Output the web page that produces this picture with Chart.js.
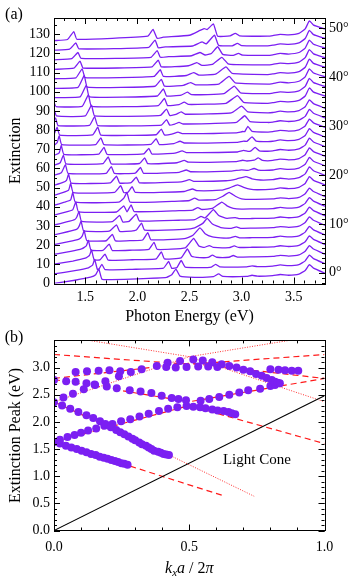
<!DOCTYPE html>
<html>
<head>
<meta charset="utf-8">
<script src="https://cdn.jsdelivr.net/npm/chart.js@4.4.1/dist/chart.umd.min.js"></script>
<style>
  html, body { margin: 0; padding: 0; background: #fff; }
  #haut { position: absolute; left: 0; top: 0; }
  #bas { position: absolute; left: 0; top: 328px; }
</style>
</head>
<body>
<canvas id="haut" width="354" height="328"></canvas>
<canvas id="bas" width="354" height="253"></canvas>
<script>
// ---- (a) spectres d'extinction, decales de 5 par angle ----
const angles = [0, 2, 4, 6, 8, 10, 12, 14, 16, 18, 20, 22, 24, 26, 28, 30, 32, 34, 36, 38, 40, 42, 44, 46, 48, 50];
const offsets = [0, 5, 10, 15, 20, 25, 30, 35, 40, 45, 50, 55, 60, 65, 70, 75, 80, 85, 90, 95, 100, 105, 110, 115, 120, 125];

// fin des courbes (pic vers 3.65 eV)
const tailLow = [[3.3, 4.1], [3.37, 4.7], [3.45, 4.3], [3.55, 4.9], [3.61, 6.8], [3.65, 9.8], [3.69, 8], [3.8, 5.3]];
const tailMid = [[3.3, 4.2], [3.37, 4.9], [3.45, 4.5], [3.55, 5.2], [3.61, 7.2], [3.65, 10.8], [3.69, 8.8], [3.8, 6.4]];
const tailHigh = [[3.3, 4.3], [3.37, 5], [3.45, 4.7], [3.55, 5.5], [3.61, 7.8], [3.65, 12], [3.69, 9.8], [3.8, 7.8]];

// [energie (eV), extinction relative]
const spectra = [
  /* 0 */ [[1.2, 0], [1.4, 1.7], [1.55, 3.3], [1.6, 4.6], [1.63, 7.5], [1.66, 2.2], [1.75, 2], [2.0, 2.4], [2.28, 3.2], [2.33, 4.6], [2.37, 7.5], [2.41, 3.8], [2.55, 3.2], [2.73, 3.6], [2.78, 5], [2.82, 3.7], [3.05, 3.7], [3.1, 4.3], [3.15, 3.8], ...tailLow],
  /* 2 */ [[1.2, 0], [1.4, 1.7], [1.53, 3.2], [1.57, 4.6], [1.59, 7.5], [1.615, 2.5], [1.63, 2.4], [1.66, 5], [1.69, 2.2], [1.95, 2.4], [2.25, 3], [2.3, 6.5], [2.33, 2.9], [2.38, 3.4], [2.42, 7], [2.46, 3.5], [2.6, 3.3], [2.71, 3.6], [2.75, 5], [2.79, 3.7], [3.05, 3.7], [3.1, 4.2], [3.15, 3.8], ...tailLow],
  /* 4 */ [[1.2, 0.1], [1.38, 1.7], [1.5, 3.2], [1.54, 4.6], [1.56, 7.5], [1.585, 2.4], [1.64, 2.3], [1.69, 5.3], [1.72, 2.2], [1.95, 2.4], [2.18, 2.9], [2.23, 6.5], [2.26, 2.8], [2.42, 3.4], [2.48, 8], [2.52, 4.2], [2.6, 3.5], [2.68, 3.6], [2.72, 4.8], [2.76, 3.7], [2.88, 3.7], [2.92, 4.6], [2.96, 3.8], [3.1, 3.9], ...tailLow],
  /* 6 */ [[1.2, 0.2], [1.36, 1.7], [1.47, 3.2], [1.51, 4.6], [1.53, 7.5], [1.555, 2.4], [1.67, 2.3], [1.73, 5.5], [1.76, 2.2], [1.95, 2.4], [2.11, 2.8], [2.16, 6.5], [2.19, 2.8], [2.46, 3.6], [2.54, 8.5], [2.59, 4.6], [2.64, 3.8], [2.69, 4.8], [2.73, 3.8], [2.88, 3.7], [2.93, 4.6], [2.97, 3.8], [3.1, 3.9], ...tailLow],
  /* 8 */ [[1.2, 0.3], [1.34, 1.8], [1.44, 3.2], [1.47, 4.7], [1.49, 7.5], [1.515, 2.4], [1.7, 2.3], [1.76, 5.6], [1.79, 2.2], [1.95, 2.4], [2.05, 2.7], [2.1, 6.5], [2.13, 2.8], [2.45, 3.4], [2.53, 5], [2.6, 9], [2.65, 6], [2.72, 4.3], [2.8, 3.8], [2.89, 3.8], [2.94, 4.6], [2.98, 3.8], [3.1, 3.9], ...tailLow],
  /* 10 */ [[1.2, 0.4], [1.33, 2], [1.42, 3.4], [1.44, 4.8], [1.46, 7.5], [1.485, 2.4], [1.73, 2.3], [1.8, 5.6], [1.83, 2.2], [1.94, 2.3], [1.99, 2.9], [2.04, 6.5], [2.07, 2.8], [2.45, 3.2], [2.55, 4], [2.63, 6.5], [2.67, 9], [2.72, 6], [2.8, 4.2], [2.9, 3.8], [2.95, 4.5], [2.99, 3.8], [3.1, 3.9], ...tailLow],
  /* 12 */ [[1.2, 0.5], [1.32, 2.1], [1.4, 3.4], [1.42, 4.8], [1.44, 7.5], [1.465, 2.4], [1.76, 2.3], [1.83, 5.5], [1.86, 2.1], [1.92, 2.4], [1.99, 6.2], [2.02, 2.6], [2.4, 3], [2.55, 3.3], [2.61, 5], [2.65, 4.2], [2.73, 8.5], [2.78, 5.5], [2.86, 4], [2.94, 4.4], [2.98, 3.8], [3.1, 3.9], ...tailLow],
  /* 14 */ [[1.2, 0.6], [1.31, 2.2], [1.38, 3.5], [1.39, 4.8], [1.41, 7.5], [1.435, 2.4], [1.8, 2.3], [1.87, 5.5], [1.9, 2.4], [1.94, 6], [1.97, 2.5], [2.4, 3], [2.53, 3.3], [2.58, 4.6], [2.62, 3.6], [2.72, 4.2], [2.81, 7.5], [2.86, 5.5], [2.92, 4.2], [3.0, 3.8], [3.1, 3.9], ...tailLow],
  /* 16 */ [[1.2, 0.8], [1.3, 2.4], [1.36, 3.6], [1.38, 7.5], [1.405, 2.4], [1.82, 2.4], [1.87, 4.5], [1.9, 7.5], [1.93, 2.4], [2.4, 3], [2.5, 3.3], [2.55, 4.5], [2.59, 3.5], [2.75, 3.8], [2.82, 5.5], [2.88, 7.5], [2.94, 5.5], [3.0, 4.2], [3.1, 3.9], ...tailLow],
  /* 18 */ [[1.2, 1], [1.29, 2.5], [1.34, 3.7], [1.36, 7.2], [1.385, 2.4], [1.78, 2.5], [1.84, 6], [1.87, 2.4], [1.91, 2.6], [1.95, 5.5], [1.98, 2.5], [2.45, 3], [2.53, 4.3], [2.57, 3.4], [2.8, 3.7], [2.88, 4.8], [2.96, 6.5], [3.02, 5.2], [3.08, 4.2], [3.15, 3.9], ...tailMid],
  /* 20 */ [[1.2, 1.2], [1.28, 2.6], [1.32, 3.8], [1.34, 7], [1.365, 2.4], [1.74, 2.5], [1.8, 6], [1.83, 2.4], [1.94, 2.6], [1.99, 5.5], [2.02, 2.5], [2.42, 3], [2.5, 4.2], [2.54, 3.3], [2.85, 3.6], [2.95, 4.5], [3.04, 5.8], [3.1, 4.6], [3.18, 4], ...tailMid],
  /* 22 */ [[1.2, 1.4], [1.27, 2.8], [1.31, 7], [1.335, 2.4], [1.7, 2.5], [1.75, 6], [1.78, 2.4], [1.98, 2.6], [2.03, 5.5], [2.06, 2.5], [2.4, 3], [2.47, 4.2], [2.51, 3.3], [2.9, 3.6], [3.0, 4.3], [3.06, 4], [3.12, 5], [3.16, 4.2], [3.22, 4], ...tailMid],
  /* 24 */ [[1.2, 1.6], [1.26, 3], [1.29, 7], [1.315, 2.4], [1.67, 2.5], [1.72, 6], [1.75, 2.4], [2.02, 2.6], [2.07, 5.5], [2.1, 2.5], [2.38, 3], [2.45, 4.2], [2.49, 3.3], [2.95, 3.6], [3.01, 4.3], [3.05, 3.9], [3.12, 4.3], [3.16, 5.5], [3.2, 4.2], [3.25, 4], ...tailMid],
  /* 26 */ [[1.2, 1.8], [1.25, 3.2], [1.27, 7], [1.295, 2.4], [1.63, 2.5], [1.68, 6], [1.71, 2.4], [2.06, 2.6], [2.11, 5.5], [2.14, 2.5], [2.36, 3], [2.43, 4.2], [2.47, 3.3], [2.96, 3.6], [3.02, 4.4], [3.06, 3.9], [3.09, 4.2], [3.13, 6], [3.17, 4.2], [3.25, 4], ...tailMid],
  /* 28 */ [[1.2, 2], [1.23, 3.4], [1.25, 7], [1.275, 2.4], [1.6, 2.5], [1.65, 6], [1.68, 2.4], [2.13, 2.6], [2.18, 5.5], [2.21, 2.5], [2.35, 3], [2.41, 4.2], [2.45, 3.3], [2.96, 3.6], [3.02, 4.3], [3.05, 4.1], [3.1, 6.5], [3.14, 4.3], [3.25, 4], ...tailMid],
  /* 30 */ [[1.2, 2.6], [1.23, 6.5], [1.255, 2.4], [1.57, 2.5], [1.62, 6.5], [1.65, 2.4], [2.18, 2.6], [2.23, 5.5], [2.26, 2.5], [2.33, 2.9], [2.39, 4], [2.43, 3.2], [2.95, 3.6], [3.01, 4.3], [3.03, 4.2], [3.06, 7], [3.1, 4.4], [3.25, 4], ...tailMid],
  /* 32 */ [[1.2, 5.5], [1.215, 6.3], [1.24, 2.4], [1.54, 2.5], [1.59, 7], [1.62, 2.4], [2.23, 2.6], [2.28, 5.5], [2.31, 2.6], [2.36, 3.2], [2.4, 4], [2.44, 3.2], [2.95, 4], [3.03, 7.5], [3.08, 4.5], [3.25, 4], ...tailMid],
  /* 34 */ [[1.2, 6], [1.225, 2.4], [1.5, 2.4], [1.56, 8], [1.59, 2.4], [2.22, 2.7], [2.28, 6], [2.31, 2.7], [2.37, 3.2], [2.42, 4.5], [2.46, 3.3], [2.9, 4], [3.0, 7.5], [3.06, 4.5], [3.25, 4], ...tailMid],
  /* 36 */ [[1.2, 4.5], [1.22, 2.3], [1.47, 2.4], [1.53, 8.5], [1.56, 2.4], [2.2, 2.8], [2.26, 6.5], [2.29, 2.8], [2.4, 3.3], [2.45, 4.6], [2.49, 3.4], [2.85, 4], [2.96, 8], [3.02, 4.5], [3.25, 4], ...tailHigh],
  /* 38 */ [[1.2, 2], [1.45, 2.3], [1.51, 8.5], [1.54, 2.4], [2.19, 2.8], [2.25, 6.5], [2.28, 2.8], [2.42, 3.3], [2.48, 4.8], [2.52, 3.5], [2.83, 4], [2.93, 8], [2.99, 4.5], [3.25, 4], ...tailHigh],
  /* 40 */ [[1.2, 1.8], [1.43, 2.3], [1.49, 8.5], [1.52, 2.4], [2.17, 2.9], [2.23, 6.5], [2.26, 2.9], [2.44, 3.4], [2.51, 4.8], [2.56, 3.6], [2.78, 4], [2.88, 8], [2.94, 4.6], [3.25, 4], ...tailHigh],
  /* 42 */ [[1.2, 1.8], [1.41, 2.3], [1.47, 7], [1.5, 2.4], [2.16, 3], [2.22, 6.5], [2.25, 3], [2.47, 3.5], [2.54, 5], [2.59, 3.7], [2.75, 4.2], [2.85, 8], [2.91, 4.6], [3.25, 4], ...tailHigh],
  /* 44 */ [[1.2, 1.7], [1.39, 2.3], [1.45, 6], [1.48, 2.4], [2.14, 3], [2.2, 6.5], [2.23, 3], [2.49, 3.6], [2.57, 5.2], [2.62, 3.8], [2.72, 4.3], [2.81, 8], [2.87, 4.6], [2.95, 4.2], [3.25, 4], ...tailHigh],
  /* 46 */ [[1.2, 1.7], [1.37, 2.3], [1.43, 5.5], [1.46, 2.4], [2.13, 3], [2.19, 6.5], [2.22, 3], [2.3, 3.3], [2.52, 3.8], [2.6, 5.5], [2.65, 4.2], [2.71, 5], [2.77, 8.5], [2.82, 4.5], [2.92, 4], [2.97, 5], [3.01, 4.1], [3.25, 4], ...tailHigh],
  /* 48 */ [[1.2, 1.7], [1.35, 2.3], [1.41, 5.5], [1.44, 2.4], [2.11, 3.2], [2.17, 7], [2.2, 3], [2.27, 3.4], [2.53, 3.9], [2.62, 6], [2.66, 5], [2.74, 9.5], [2.78, 4.2], [2.91, 4], [2.96, 5.3], [3.0, 4.1], [3.25, 4], ...tailHigh],
  /* 50 */ [[1.2, 1.7], [1.33, 2.3], [1.39, 6.4], [1.42, 2.4], [2.1, 4], [2.15, 7.6], [2.19, 2.9], [2.25, 3.5], [2.5, 4.5], [2.6, 7], [2.64, 8], [2.67, 7.5], [2.73, 10.4], [2.77, 4], [2.89, 4.2], [2.94, 5.5], [2.98, 4.2], [3.25, 4], ...tailHigh]
];

const energyTicks = [1.5, 2.0, 2.5, 3.0, 3.5];
const extinctionTicks = [0, 10, 20, 30, 40, 50, 60, 70, 80, 90, 100, 110, 120, 130];
const angleTicks = [0, 10, 20, 30, 40, 50];

// ---- (b) pics d'extinction [kx a / 2pi, E (eV)] ----
const dotsA = [[0, 1.63], [0.022, 1.6], [0.044, 1.56], [0.064, 1.53], [0.084, 1.5], [0.102, 1.47], [0.12, 1.44], [0.137, 1.41], [0.154, 1.39], [0.169, 1.36], [0.184, 1.34], [0.198, 1.32], [0.212, 1.3], [0.225, 1.28], [0.237, 1.26], [0.249, 1.24], [0.26, 1.23], [0.272, 1.21]];
const dotsB = [[0.022, 1.67], [0.05, 1.72], [0.076, 1.76], [0.1, 1.8], [0.126, 1.84], [0.156, 1.88], [0.186, 1.93], [0.216, 1.96], [0.248, 2.01], [0.282, 2.05], [0.316, 2.1], [0.35, 2.15], [0.388, 2.2], [0.422, 2.24], [0.456, 2.27], [0.49, 2.29], [0.515, 2.28], [0.54, 2.27], [0.56, 2.25], [0.585, 2.23], [0.605, 2.21], [0.627, 2.2], [0.645, 2.18], [0.657, 2.16], [0.67, 2.14]];
const dotsC = [[0, 2.36], [0.03, 2.3], [0.06, 2.24], [0.09, 2.18], [0.12, 2.12], [0.145, 2.07], [0.17, 2.01], [0.19, 1.96], [0.21, 1.9], [0.23, 1.85], [0.245, 1.81], [0.26, 1.77], [0.275, 1.73], [0.29, 1.69], [0.3, 1.66], [0.315, 1.62], [0.325, 1.59], [0.34, 1.56], [0.35, 1.53], [0.36, 1.5], [0.37, 1.47], [0.385, 1.45], [0.395, 1.43], [0.405, 1.41], [0.415, 1.4], [0.425, 1.39]];
const dotsD = [[0.035, 2.45], [0.07, 2.52], [0.11, 2.6], [0.15, 2.69], [0.19, 2.75], [0.24, 2.84]];
const dotsE = [[0, 2.77], [0.045, 2.75], [0.08, 2.74], [0.12, 2.71], [0.152, 2.68], [0.195, 2.65], [0.232, 2.62], [0.28, 2.58], [0.32, 2.56], [0.36, 2.53], [0.398, 2.48], [0.435, 2.44], [0.46, 2.42], [0.488, 2.4], [0.542, 2.39], [0.574, 2.42], [0.611, 2.46], [0.648, 2.5], [0.685, 2.54], [0.718, 2.58], [0.762, 2.61], [0.8, 2.66], [0.817, 2.68]];
const dotsFlat = [[0.08, 2.92], [0.122, 2.93], [0.165, 2.94], [0.205, 2.95], [0.245, 2.93], [0.284, 2.92], [0.8, 2.97], [0.83, 2.96], [0.854, 2.95], [0.879, 2.94], [0.903, 2.94]];
const dotsUpper = [[0.324, 2.97], [0.38, 3.03], [0.42, 3.09], [0.466, 3.12], [0.515, 3.15], [0.55, 3.13], [0.585, 3.1], [0.62, 3.06], [0.648, 3.03], [0.675, 3.0], [0.7, 2.96], [0.725, 2.93], [0.747, 2.88], [0.768, 2.85], [0.786, 2.81], [0.805, 2.77], [0.817, 2.74], [0.827, 2.72], [0.835, 2.71]];
const dotsMid = [[0.415, 3.01], [0.45, 3.0], [0.49, 3.01], [0.533, 3.02], [0.57, 3.02], [0.604, 3.01]];

// bandes (lignes rouges) et cone de lumiere
const lightCone = [[0, 0], [1, 2.48]];
const dashA = [[0, 1.63], [0.62, 0.65]];
const dashB = [[0, 1.63], [0.5, 2.3], [1, 1.6]];
const dashC = [[0, 2.37], [0.43, 1.38]];
const dashE = [[0, 2.78], [0.5, 2.37], [1, 2.8]];
const dashLambda = [[0, 2.8], [0.5, 3.08], [1, 2.8]];
const dashV = [[0, 3.24], [0.5, 3.06], [1, 3.24]];
const dotC = [[0.43, 1.38], [0.74, 0.63]];
const dotX = [[0, 2.37], [0.5, 3.2], [1, 2.37]];
const dotTop = [[0.13, 3.5], [0.5, 3.2], [0.87, 3.5]];

const kTicks = [0, 0.5, 1.0];
const peakTicks = [0, 0.5, 1.0, 1.5, 2.0, 2.5, 3.0];

// ---------------------------------------------------
Chart.defaults.font.family = "'Liberation Serif', serif";
Chart.defaults.font.size = 13;
Chart.defaults.color = "#000";

const violet = "#7b1ff2";
const rouge = "#ff1a1a";

function range(a, b, s) {
  const r = [];
  for (let v = a; v <= b + 1e-9; v += s) r.push(+v.toFixed(4));
  return r;
}
const toXY = (pts) => pts.map((p) => ({ x: p[0], y: p[1] }));

// cadre avec graduations vers l'interieur
const cadre = {
  id: "cadre",
  afterDatasetsDraw(chart, args, o) {
    const { ctx, chartArea: a } = chart;
    const xs = chart.scales.x;
    const ys = chart.scales.y;
    const rs = chart.scales[o.right];
    ctx.save();
    ctx.strokeStyle = "#000";
    ctx.lineWidth = 1;
    ctx.beginPath();
    const vx = (v, len) => {
      const p = Math.round(xs.getPixelForValue(v)) + 0.5;
      ctx.moveTo(p, a.bottom); ctx.lineTo(p, a.bottom - len);
      ctx.moveTo(p, a.top); ctx.lineTo(p, a.top + len);
    };
    const hl = (v, len) => {
      const p = Math.round(ys.getPixelForValue(v)) + 0.5;
      ctx.moveTo(a.left, p); ctx.lineTo(a.left + len, p);
    };
    const hr = (v, len) => {
      const p = Math.round(rs.getPixelForValue(v)) + 0.5;
      ctx.moveTo(a.right, p); ctx.lineTo(a.right - len, p);
    };
    o.xMinor.forEach((v) => vx(v, 3));
    o.xMajor.forEach((v) => vx(v, 6));
    o.yMinor.forEach((v) => hl(v, 3));
    o.yMajor.forEach((v) => hl(v, 6));
    o.rMinor.forEach((v) => hr(v, 3));
    o.rMajor.forEach((v) => hr(v, 6));
    ctx.stroke();
    ctx.strokeRect(Math.round(a.left) + 0.5, Math.round(a.top) + 0.5,
      Math.round(a.right - a.left), Math.round(a.bottom - a.top));
    ctx.restore();
  }
};

// textes libres : (a), (b), Light Cone, k_x a / 2pi
const textes = {
  id: "textes",
  afterDraw(chart, args, o) {
    const { ctx, chartArea: a } = chart;
    ctx.save();
    ctx.fillStyle = "#000";
    ctx.textBaseline = "middle";
    ctx.textAlign = "center";
    ctx.font = "16px 'Liberation Serif'";
    ctx.fillText(o.panel, 14, o.panelY);
    if (o.cone) {
      ctx.font = "15px 'Liberation Serif'";
      ctx.fillText("Light Cone", chart.scales.x.getPixelForValue(o.cone[0]), chart.scales.y.getPixelForValue(o.cone[1]));
    }
    if (o.kTitle) {
      const parts = [
        { t: "k", f: "italic 16px 'Liberation Serif'", dy: 0 },
        { t: "x", f: "italic 11px 'Liberation Serif'", dy: 4 },
        { t: "a", f: "italic 16px 'Liberation Serif'", dy: 0 },
        { t: " / 2", f: "16px 'Liberation Serif'", dy: 0 },
        { t: "\u03C0", f: "italic 16px 'Liberation Serif'", dy: 0 }
      ];
      let w = 0;
      parts.forEach((p) => { ctx.font = p.f; p.w = ctx.measureText(p.t).width; w += p.w; });
      let x = (a.left + a.right) / 2 - w / 2;
      ctx.textAlign = "left";
      parts.forEach((p) => { ctx.font = p.f; ctx.fillText(p.t, x, o.kTitle + p.dy); x += p.w; });
    }
    ctx.restore();
  }
};

// ---------- graphique (a) ----------
const datasetsHaut = spectra.map((s, i) => ({
  label: angles[i] + "\u00B0",
  data: s.map((p) => ({ x: p[0], y: p[1] + offsets[i] })),
  borderColor: violet,
  borderWidth: 1.3,
  pointRadius: 0,
  fill: false,
  tension: 0.12
}));

new Chart(document.getElementById("haut"), {
  type: "line",
  data: { datasets: datasetsHaut },
  options: {
    responsive: false,
    animation: false,
    devicePixelRatio: 1,
    layout: { padding: { top: 18, left: 0, right: 0, bottom: 0 } },
    plugins: {
      legend: { display: false },
      tooltip: { enabled: false },
      cadre: {
        right: "y2",
        xMajor: energyTicks, xMinor: range(1.2, 3.8, 0.1),
        yMajor: extinctionTicks, yMinor: range(0, 135, 5),
        rMajor: angleTicks, rMinor: range(-2, 52, 1)
      },
      textes: { panel: "(a)", panelY: 15 }
    },
    scales: {
      x: {
        type: "linear", min: 1.2, max: 3.8,
        grid: { display: false, drawTicks: false }, border: { display: false },
        afterBuildTicks: (s) => { s.ticks = energyTicks.map((v) => ({ value: v })); },
        ticks: { padding: 5, font: { size: 14 }, maxRotation: 0, autoSkip: false, callback: (v) => v.toFixed(1) },
        title: { display: true, text: "Photon Energy (eV)", font: { size: 16 }, padding: { top: 0, bottom: 2 } },
        afterFit: (s) => { s.height = 44.5; }
      },
      y: {
        type: "linear", position: "left", min: 0, max: 138.5,
        grid: { display: false, drawTicks: false }, border: { display: false },
        afterBuildTicks: (s) => { s.ticks = extinctionTicks.map((v) => ({ value: v })); },
        ticks: { padding: 4, font: { size: 14 }, autoSkip: false },
        title: { display: true, text: "Extinction", font: { size: 16 }, padding: { top: 6, bottom: 0 } },
        afterFit: (s) => { s.width = 54; }
      },
      y2: {
        type: "linear", position: "right", min: -2.2, max: 52.1,
        grid: { display: false, drawTicks: false }, border: { display: false },
        afterBuildTicks: (s) => { s.ticks = angleTicks.map((v) => ({ value: v })); },
        ticks: { padding: 4, font: { size: 14 }, autoSkip: false, callback: (v) => v + "\u00B0" },
        afterFit: (s) => { s.width = 29; }
      }
    }
  },
  plugins: [cadre, textes]
});

// ---------- graphique (b) ----------
const ligne = (pts, dash, color, width, label) => ({
  type: "line", label: label, data: toXY(pts), borderColor: color, borderWidth: width,
  borderDash: dash, pointRadius: 0, fill: false, tension: 0, order: 2
});

const tousLesPics = [].concat(dotsA, dotsB, dotsC, dotsD, dotsE, dotsFlat, dotsUpper, dotsMid);

new Chart(document.getElementById("bas"), {
  type: "scatter",
  data: {
    datasets: [
      { type: "scatter", label: "pics", data: toXY(tousLesPics), backgroundColor: violet, borderWidth: 0, pointRadius: 4, order: 0 },
      ligne(lightCone, [], "#000", 1.1, "cone"),
      ligne(dashA, [6, 4], rouge, 1.2, "A"),
      ligne(dashB, [6, 4], rouge, 1.2, "B"),
      ligne(dashC, [6, 4], rouge, 1.2, "C"),
      ligne(dashE, [6, 4], rouge, 1.2, "E"),
      ligne(dashLambda, [6, 4], rouge, 1.2, "L"),
      ligne(dashV, [6, 4], rouge, 1.2, "V"),
      ligne(dotC, [1, 1.5], rouge, 0.9, "Cp"),
      ligne(dotX, [1, 1.5], rouge, 0.9, "X"),
      ligne(dotTop, [1, 1.5], rouge, 0.9, "T")
    ]
  },
  options: {
    responsive: false,
    animation: false,
    devicePixelRatio: 1,
    layout: { padding: { top: 11, left: 0, right: 29.5, bottom: 0 } },
    plugins: {
      legend: { display: false },
      tooltip: { enabled: false },
      cadre: {
        right: "y",
        xMajor: kTicks, xMinor: range(0, 1, 0.1),
        yMajor: peakTicks, yMinor: range(0, 3.5, 0.1),
        rMajor: peakTicks, rMinor: range(0, 3.5, 0.1)
      },
      textes: { panel: "(b)", panelY: 10, cone: [0.75, 1.3], kTitle: 241 }
    },
    scales: {
      x: {
        type: "linear", min: 0, max: 1,
        grid: { display: false, drawTicks: false }, border: { display: false },
        afterBuildTicks: (s) => { s.ticks = kTicks.map((v) => ({ value: v })); },
        ticks: { padding: 8, font: { size: 14 }, maxRotation: 0, autoSkip: false, callback: (v) => v.toFixed(1) },
        afterFit: (s) => { s.height = 50.5; }
      },
      y: {
        type: "linear", position: "left", min: 0, max: 3.5,
        grid: { display: false, drawTicks: false }, border: { display: false },
        afterBuildTicks: (s) => { s.ticks = peakTicks.map((v) => ({ value: v })); },
        ticks: { padding: 4, font: { size: 14 }, autoSkip: false, callback: (v) => v.toFixed(1) },
        title: { display: true, text: "Extinction Peak (eV)", font: { size: 16 }, padding: { top: 6, bottom: 0 } },
        afterFit: (s) => { s.width = 54; }
      }
    }
  },
  plugins: [cadre, textes]
});
</script>
</body>
</html>
